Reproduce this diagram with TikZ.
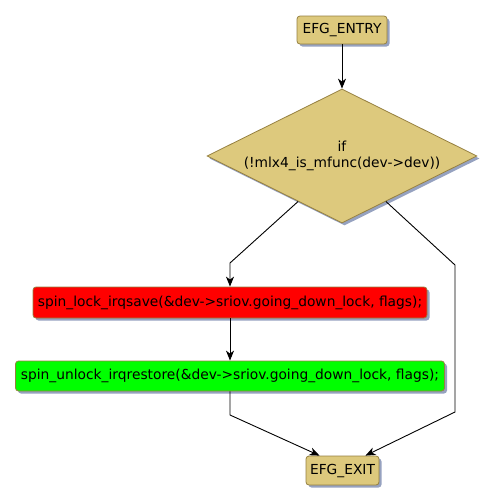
\documentclass[tikz,border=0pt]{standalone}
\usepackage{fontspec}
\setmainfont{DejaVu Sans}
\usetikzlibrary{shapes.geometric,shadows,arrows.meta}
\definecolor{efgsand}{RGB}{221,201,125}
\definecolor{efgedge}{RGB}{150,128,64}
\definecolor{efgshadow}{RGB}{150,162,192}

\begin{document}
\begin{tikzpicture}
[x=1pt, y=-1pt, every node/.style={inner sep=0pt, font=\fontsize{13.8}{16}\selectfont},
 blockshape/.style={rectangle, rounded corners=3pt, draw=efgedge, line width=0.8pt,
   drop shadow={shadow xshift=2.5pt, shadow yshift=-2.5pt, fill=efgshadow, opacity=1}},
 flowedge/.style={line width=0.9pt, -{Stealth[length=10pt, width=8pt, inset=3pt]}, color=black}]
\useasboundingbox (0,0) rectangle (495,504);
\node (entry) [blockshape, fill=efgsand, minimum width=90pt, minimum height=28pt] at (342, 30) {EFG\_ENTRY};
\node (cond) [diamond, aspect=2, minimum width=270pt, minimum height=134pt, fill=efgsand, draw=efgedge, line width=0.8pt,
   drop shadow={shadow xshift=2.5pt, shadow yshift=-2.5pt, fill=efgshadow, opacity=1}, align=center] at (342, 156) {if\\(!mlx4\_is\_mfunc(dev->dev))};
\node (lock) [blockshape, fill=red, minimum width=394pt, minimum height=31pt] at (230, 302.5) {spin\_lock\_irqsave(\&dev->sriov.going\_down\_lock, flags);};
\node (unlock) [blockshape, fill=green, minimum width=429pt, minimum height=30pt] at (230, 376) {spin\_unlock\_irqrestore(\&dev->sriov.going\_down\_lock, flags);};
\node (exit) [blockshape, fill=efgsand, minimum width=73pt, minimum height=29pt] at (342.5, 470.5) {EFG\_EXIT};
\coordinate (lbend) at (230, 263);
\coordinate (rbend) at (455, 265);
\coordinate (rdown) at (455, 412);
\coordinate (ubend) at (230, 415);
\draw [flowedge] (entry) to (cond);
\draw [flowedge] (cond.-134) -- (lbend) -- (lock);
\draw [flowedge] (lock) to (unlock);
\draw [flowedge] (unlock) -- (ubend) -- (exit.147);
\draw [flowedge] (cond.-46) -- (rbend) -- (rdown) -- (exit.33);
\end{tikzpicture}
\end{document}
